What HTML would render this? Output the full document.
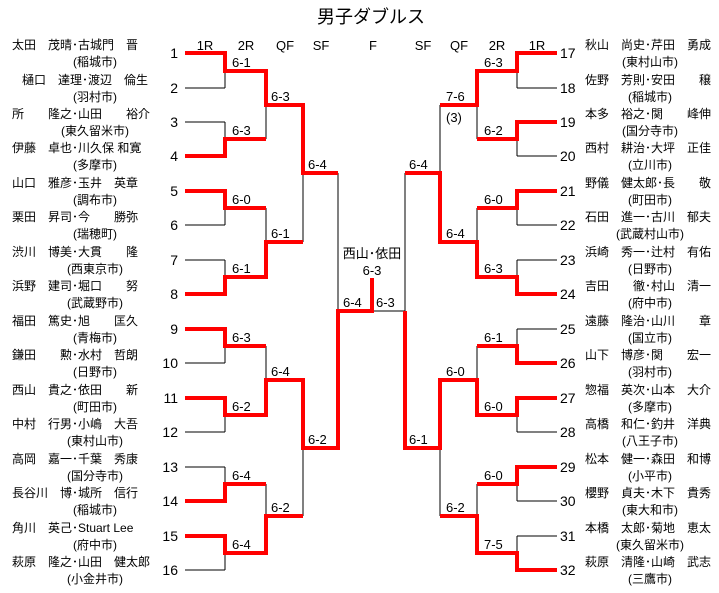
<!DOCTYPE html>
<html><head><meta charset="utf-8"><style>
body{margin:0;background:#fff;width:719px;height:593px;overflow:hidden;position:relative;font-family:"Liberation Sans","Noto Sans CJK JP",sans-serif;color:#000}
.t{position:absolute;font-size:12px;line-height:14px;white-space:pre}
.c{position:absolute;font-size:12px;line-height:14px;white-space:pre;text-align:center;width:160px}
svg{position:absolute;left:0;top:0}
</style></head><body>
<div style="position:absolute;left:271px;top:6px;width:200px;text-align:center;font-size:18px;line-height:22px">男子ダブルス</div>
<svg width="719" height="593" font-family="Liberation Sans, Noto Sans CJK JP, sans-serif" font-size="13">
<g fill="#000">
<text x="205" y="50" text-anchor="middle">1R</text><text x="246" y="50" text-anchor="middle">2R</text><text x="285" y="50" text-anchor="middle">QF</text><text x="321" y="50" text-anchor="middle">SF</text><text x="373" y="50" text-anchor="middle">F</text><text x="423" y="50" text-anchor="middle">SF</text><text x="459" y="50" text-anchor="middle">QF</text><text x="497" y="50" text-anchor="middle">2R</text><text x="537" y="50" text-anchor="middle">1R</text>
</g>
<g stroke="#000" stroke-width="1" fill="none">
<path d="M185 53H225M185 88H225M185 122H225M185 156H225M185 191H225M185 225H225M185 260H225M185 294H225M185 329H225M185 363H225M185 398H225M185 432H225M185 467H225M185 501H225M185 536H225M185 570H225"/>
<path d="M225 53V88M225 122V156M225 191V225M225 260V294M225 329V363M225 398V432M225 467V501M225 536V570"/>
<path d="M225 71H266M225 139H266M225 208H266M225 277H266M225 346H266M225 415H266M225 484H266M225 553H266"/>
<path d="M266 71V139M266 208V277M266 346V415M266 484V553M266 105H303M266 242H303M266 380H303M266 516H303"/>
<path d="M303 105V242M303 380V516M303 173H338M303 448H338M338 173V448M338 311H405"/>
<path d="M557 53H517M557 88H517M557 122H517M557 156H517M557 191H517M557 225H517M557 260H517M557 294H517M557 329H517M557 363H517M557 398H517M557 432H517M557 467H517M557 501H517M557 536H517M557 570H517"/>
<path d="M517 53V88M517 122V156M517 191V225M517 260V294M517 329V363M517 398V432M517 467V501M517 536V570"/>
<path d="M517 71H477M517 139H477M517 208H477M517 277H477M517 346H477M517 415H477M517 484H477M517 553H477"/>
<path d="M477 71V139M477 208V277M477 346V415M477 484V553M477 105H440M477 242H440M477 380H440M477 516H440"/>
<path d="M440 105V242M440 380V516M440 173H405M440 448H405M405 173V448"/>
</g>
<g stroke="#f00" stroke-width="4" fill="none" stroke-linejoin="miter">
<polyline points="185,53 225,53 225,71 266,71 266,105 303,105 303,173 338,173"/>
<polyline points="185,156 225,156 225,139 266,139"/>
<polyline points="185,191 225,191 225,208 266,208"/>
<polyline points="185,294 225,294 225,277 266,277 266,242 303,242"/>
<polyline points="185,329 225,329 225,346 266,346"/>
<polyline points="185,398 225,398 225,415 266,415 266,380 303,380 303,448 338,448 338,311 372,311 372,278"/>
<polyline points="185,501 225,501 225,484 266,484"/>
<polyline points="185,536 225,536 225,553 266,553 266,516 303,516"/>
<polyline points="557,53 517,53 517,71 477,71 477,105 440,105"/>
<polyline points="557,122 517,122 517,139 477,139"/>
<polyline points="557,191 517,191 517,208 477,208"/>
<polyline points="557,294 517,294 517,277 477,277 477,242 440,242 440,173 405,173"/>
<polyline points="557,363 517,363 517,346 477,346"/>
<polyline points="557,398 517,398 517,415 477,415 477,380 440,380 440,448 405,448 405,311"/>
<polyline points="557,467 517,467 517,484 477,484"/>
<polyline points="557,570 517,570 517,553 477,553 477,516 440,516"/>
</g>
<g fill="#000">
<text x="232" y="67">6-1</text><text x="232" y="135">6-3</text><text x="232" y="204">6-0</text><text x="232" y="273">6-1</text><text x="232" y="342">6-3</text><text x="232" y="411">6-2</text><text x="232" y="480">6-4</text><text x="232" y="549">6-4</text>
<text x="271" y="101">6-3</text><text x="271" y="238">6-1</text><text x="271" y="376">6-4</text><text x="271" y="512">6-2</text>
<text x="308" y="169">6-4</text><text x="308" y="444">6-2</text>
<text x="343" y="307">6-4</text><text x="376" y="307">6-3</text>
<text x="372" y="258" text-anchor="middle">西山･依田</text><text x="372" y="275" text-anchor="middle">6-3</text>
<text x="484" y="67">6-3</text><text x="484" y="135">6-2</text><text x="484" y="204">6-0</text><text x="484" y="273">6-3</text><text x="484" y="342">6-1</text><text x="484" y="411">6-0</text><text x="484" y="480">6-0</text><text x="484" y="549">7-5</text>
<text x="446" y="101">7-6</text><text x="446" y="122">(3)</text><text x="446" y="238">6-4</text><text x="446" y="376">6-0</text><text x="446" y="512">6-2</text>
<text x="409" y="169">6-4</text><text x="409" y="444">6-1</text>
</g>
<g fill="#000" font-size="14">
<text x="178" y="58" text-anchor="end">1</text><text x="178" y="93" text-anchor="end">2</text><text x="178" y="127" text-anchor="end">3</text><text x="178" y="161" text-anchor="end">4</text><text x="178" y="196" text-anchor="end">5</text><text x="178" y="230" text-anchor="end">6</text><text x="178" y="265" text-anchor="end">7</text><text x="178" y="299" text-anchor="end">8</text><text x="178" y="334" text-anchor="end">9</text><text x="178" y="368" text-anchor="end">10</text><text x="178" y="403" text-anchor="end">11</text><text x="178" y="437" text-anchor="end">12</text><text x="178" y="472" text-anchor="end">13</text><text x="178" y="506" text-anchor="end">14</text><text x="178" y="541" text-anchor="end">15</text><text x="178" y="575" text-anchor="end">16</text>
<text x="560" y="58">17</text><text x="560" y="93">18</text><text x="560" y="127">19</text><text x="560" y="161">20</text><text x="560" y="196">21</text><text x="560" y="230">22</text><text x="560" y="265">23</text><text x="560" y="299">24</text><text x="560" y="334">25</text><text x="560" y="368">26</text><text x="560" y="403">27</text><text x="560" y="437">28</text><text x="560" y="472">29</text><text x="560" y="506">30</text><text x="560" y="541">31</text><text x="560" y="575">32</text>
</g>
</svg>

<div class="t" style="left:12px;top:38px">太田　茂晴･古城門　晋</div><div class="c" style="left:15px;top:55px">(稲城市)</div>
<div class="t" style="left:22px;top:73px">樋口　達理･渡辺　倫生</div><div class="c" style="left:15px;top:90px">(羽村市)</div>
<div class="t" style="left:12px;top:107px">所　　隆之･山田　　裕介</div><div class="c" style="left:15px;top:124px">(東久留米市)</div>
<div class="t" style="left:12px;top:141px">伊藤　卓也･川久保 和寛</div><div class="c" style="left:15px;top:158px">(多摩市)</div>
<div class="t" style="left:12px;top:176px">山口　雅彦･玉井　英章</div><div class="c" style="left:15px;top:193px">(調布市)</div>
<div class="t" style="left:12px;top:210px">栗田　昇司･今　　勝弥</div><div class="c" style="left:15px;top:227px">(瑞穂町)</div>
<div class="t" style="left:12px;top:245px">渋川　博美･大貫　　隆</div><div class="c" style="left:15px;top:262px">(西東京市)</div>
<div class="t" style="left:12px;top:279px">浜野　建司･堀口　　努</div><div class="c" style="left:15px;top:296px">(武蔵野市)</div>
<div class="t" style="left:12px;top:314px">福田　篤史･旭　　匡久</div><div class="c" style="left:15px;top:331px">(青梅市)</div>
<div class="t" style="left:12px;top:348px">鎌田　　勲･水村　哲朗</div><div class="c" style="left:15px;top:365px">(日野市)</div>
<div class="t" style="left:12px;top:383px">西山　貴之･依田　　新</div><div class="c" style="left:15px;top:400px">(町田市)</div>
<div class="t" style="left:12px;top:417px">中村　行男･小嶋　大吾</div><div class="c" style="left:15px;top:434px">(東村山市)</div>
<div class="t" style="left:12px;top:452px">高岡　嘉一･千葉　秀康</div><div class="c" style="left:15px;top:469px">(国分寺市)</div>
<div class="t" style="left:12px;top:486px">長谷川　博･城所　信行</div><div class="c" style="left:15px;top:503px">(稲城市)</div>
<div class="t" style="left:12px;top:521px">角川　英己･Stuart Lee</div><div class="c" style="left:15px;top:538px">(府中市)</div>
<div class="t" style="left:12px;top:555px">萩原　隆之･山田　健太郎</div><div class="c" style="left:15px;top:572px">(小金井市)</div>

<div class="t" style="left:585px;top:38px">秋山　尚史･芹田　勇成</div><div class="c" style="left:570px;top:55px">(東村山市)</div>
<div class="t" style="left:585px;top:73px">佐野　芳則･安田　　穣</div><div class="c" style="left:570px;top:90px">(稲城市)</div>
<div class="t" style="left:585px;top:107px">本多　裕之･関　　峰伸</div><div class="c" style="left:570px;top:124px">(国分寺市)</div>
<div class="t" style="left:585px;top:141px">西村　耕治･大坪　正佳</div><div class="c" style="left:570px;top:158px">(立川市)</div>
<div class="t" style="left:585px;top:176px">野儀　健太郎･長　　敬</div><div class="c" style="left:570px;top:193px">(町田市)</div>
<div class="t" style="left:585px;top:210px">石田　進一･古川　郁夫</div><div class="c" style="left:570px;top:227px">(武蔵村山市)</div>
<div class="t" style="left:585px;top:245px">浜崎　秀一･辻村　有佑</div><div class="c" style="left:570px;top:262px">(日野市)</div>
<div class="t" style="left:585px;top:279px">吉田　　徹･村山　清一</div><div class="c" style="left:570px;top:296px">(府中市)</div>
<div class="t" style="left:585px;top:314px">遠藤　隆治･山川　　章</div><div class="c" style="left:570px;top:331px">(国立市)</div>
<div class="t" style="left:585px;top:348px">山下　博彦･関　　宏一</div><div class="c" style="left:570px;top:365px">(羽村市)</div>
<div class="t" style="left:585px;top:383px">惣福　英次･山本　大介</div><div class="c" style="left:570px;top:400px">(多摩市)</div>
<div class="t" style="left:585px;top:417px">高橋　和仁･釣井　洋典</div><div class="c" style="left:570px;top:434px">(八王子市)</div>
<div class="t" style="left:585px;top:452px">松本　健一･森田　和博</div><div class="c" style="left:570px;top:469px">(小平市)</div>
<div class="t" style="left:585px;top:486px">櫻野　貞夫･木下　貴秀</div><div class="c" style="left:570px;top:503px">(東大和市)</div>
<div class="t" style="left:585px;top:521px">本橋　太郎･菊地　恵太</div><div class="c" style="left:570px;top:538px">(東久留米市)</div>
<div class="t" style="left:585px;top:555px">萩原　清隆･山崎　武志</div><div class="c" style="left:570px;top:572px">(三鷹市)</div>
</body></html>
